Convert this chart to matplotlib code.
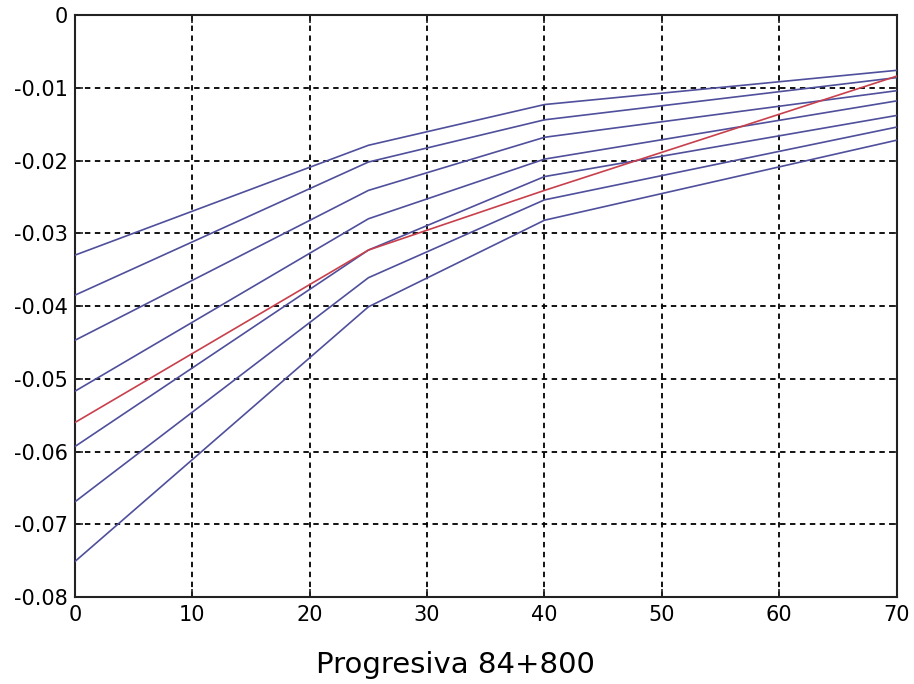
import matplotlib
matplotlib.use('Agg')
import matplotlib.pyplot as plt

# progresiva (m) at the break points
x_pts = [0, 25, 40, 70]

# blue curves, top to bottom
blue_curves = [
    [-0.0330, -0.0179, -0.0123, -0.0076],
    [-0.0385, -0.0202, -0.0144, -0.0086],
    [-0.0447, -0.0241, -0.0168, -0.0104],
    [-0.0517, -0.0280, -0.0198, -0.0118],
    [-0.0593, -0.0323, -0.0222, -0.0138],
    [-0.0669, -0.0361, -0.0254, -0.0154],
    [-0.0751, -0.0401, -0.0282, -0.0172],
]

# red curve
red_curve = [-0.0560, -0.0323, -0.0241, -0.0084]

x_ticks = [0, 10, 20, 30, 40, 50, 60, 70]
y_ticks = [0, -0.01, -0.02, -0.03, -0.04, -0.05, -0.06, -0.07, -0.08]
y_labels = ['0', '-0.01', '-0.02', '-0.03', '-0.04', '-0.05', '-0.06', '-0.07', '-0.08']

fig = plt.figure(figsize=(9.14, 6.84), dpi=100)
ax = fig.add_axes([0.082, 0.127, 0.899, 0.851])

for yy in blue_curves:
    ax.plot(x_pts, yy, color='#4f4f9c', lw=1.2, zorder=3)
ax.plot(x_pts, red_curve, color='#c8404c', lw=1.2, zorder=4)

ax.set_xlim(0, 70)
ax.set_ylim(-0.08, 0)
ax.set_xticks(x_ticks)
ax.set_xticklabels([str(t) for t in x_ticks])
ax.set_yticks(y_ticks)
ax.set_yticklabels(y_labels)

ax.grid(True, color='black', linestyle=(0, (3, 2.5)), lw=1.3, zorder=1)
ax.tick_params(direction='in', length=6, width=1.2, top=True, right=True,
               labelsize=15, color='#222222')
ax.tick_params(axis='x', pad=6)
ax.tick_params(axis='y', pad=5)
for sp in ax.spines.values():
    sp.set_linewidth(1.5)
    sp.set_color('#222222')

ax.set_xlabel('Progresiva 84+800', fontsize=21)
ax.xaxis.label.set_va('baseline')
ax.xaxis.set_label_coords(0.4635, -0.1306)

fig.savefig('out.png', dpi=100)
